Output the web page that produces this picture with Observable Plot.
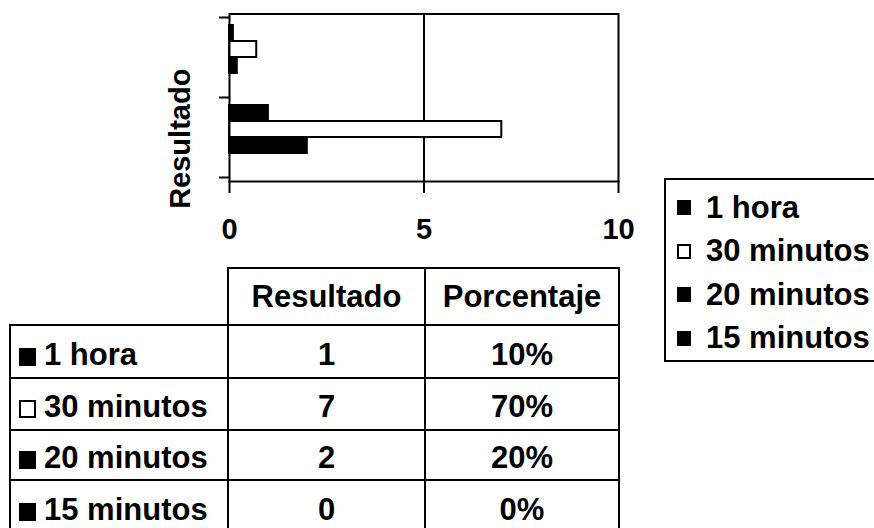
<!DOCTYPE html>
<html>
<head>
<meta charset="utf-8">
<script src="https://cdn.jsdelivr.net/npm/d3@7"></script>
<script src="https://cdn.jsdelivr.net/npm/@observablehq/plot@0.6"></script>
<style>
  html, body { margin: 0; padding: 0; background: #fff; width: 874px; height: 528px; overflow: hidden; }
  #root { position: relative; width: 874px; height: 528px; font-family: "Liberation Sans", Arial, sans-serif; font-weight: bold; color: #000; }
  #chart { position: absolute; left: 0; top: 0; }
  #legend { position: absolute; left: 664px; top: 178px; width: 240px; height: 184px; border: 2px solid #000; box-sizing: border-box; }
  .lrow { position: absolute; left: 11px; height: 43px; display: flex; align-items: center; font-size: 31px; white-space: nowrap; }
  .sw { display: inline-block; box-sizing: border-box; border: 2px solid #000; flex: none; }
  #tbl { position: absolute; left: 9px; top: 267px; border-collapse: collapse; table-layout: fixed; font-size: 31px; }
  #tbl td { border: 2px solid #000; padding: 0; white-space: nowrap; overflow: hidden; }
  #tbl td.num { text-align: center; padding-top: 6px; }
  #tbl td.lab { padding-left: 8px; padding-top: 6px; }
  #tbl td.hd { text-align: center; }
  #tbl td.blank { border-top: none; border-left: none; }
</style>
</head>
<body>
<div id="root">
  <div id="chart"></div>
  <div id="legend"></div>
  <table id="tbl"></table>
</div>
<script>
// ---- data ----
const categories = ["Porcentaje", "Resultado"];          // top group, bottom group
const series = ["1 hora", "30 minutos", "20 minutos", "15 minutos"];
const resultado = [1, 7, 2, 0];
const porcentaje = [0.1, 0.7, 0.2, 0];
const seriesFill = ["#000", "#fff", "#000", "#000"];
const xTicks = [0, 5, 10];
const yLabel = "Resultado";
const tableHeaders = ["Resultado", "Porcentaje"];

// ---- build tidy rows ----
const valuesByCategory = { Porcentaje: porcentaje, Resultado: resultado };
const bars = categories.flatMap(c =>
  series.map((s, i) => ({ category: c, serie: s, value: valuesByCategory[c][i], key: c + " · " + s }))
);
const groupKeys = c => bars.filter(b => b.category === c).map(b => b.key);
const yDomain = ["edge-top", ...groupKeys(categories[0]), "edge-mid", ...groupKeys(categories[1]), "edge-bottom"];

// ---- chart ----
const W = 660, H = 250;
const frameTop = 13.5, frameBottom = 181;
const half = (frameBottom - frameTop) / 20;

const chart = Plot.plot({
  width: W,
  height: H,
  marginLeft: 229,
  marginRight: 42,
  marginTop: frameTop - half,
  marginBottom: H - frameBottom - half,
  style: { fontFamily: '"Liberation Sans", Arial, sans-serif', fontWeight: "bold", background: "#fff", color: "#000", overflow: "visible" },
  x: { domain: [0, 10] },
  y: { type: "band", domain: yDomain, paddingInner: 0, paddingOuter: 0 },
  color: { domain: series, range: seriesFill },
  marks: [
    Plot.ruleX([5], { insetTop: half, insetBottom: half, stroke: "#000", strokeWidth: 2 }),
    Plot.barX(bars, { y: "key", x: "value", fill: "serie", stroke: "#000", strokeWidth: 2 }),
    Plot.frame({ insetTop: half, insetBottom: half, stroke: "#000", strokeWidth: 2 }),
    Plot.axisY({ ticks: ["edge-top", "edge-mid", "edge-bottom"], tickSize: 10, tickFormat: () => "", strokeWidth: 2, label: null }),
    Plot.axisX({ ticks: xTicks, tickSize: 12, tickPadding: 25, dy: -half, strokeWidth: 2, fontSize: 29, fontWeight: "bold", label: null, tickFormat: d => String(d) }),
    Plot.text([yLabel], { text: d => d, frameAnchor: "left", textAnchor: "middle", lineAnchor: "middle", rotate: -90, dx: -49, dy: 41, fontSize: 29, fontWeight: "bold", fill: "#000" })
  ]
});
document.getElementById("chart").appendChild(chart);

// ---- legend ----
const legend = document.getElementById("legend");
series.forEach((s, i) => {
  const row = document.createElement("div");
  row.className = "lrow";
  row.style.top = (6 + i * 43.5) + "px";
  const sw = document.createElement("span");
  sw.className = "sw";
  sw.style.width = "14px";
  sw.style.height = "15px";
  sw.style.background = seriesFill[i];
  sw.style.marginRight = "15px";
  row.appendChild(sw);
  row.appendChild(document.createTextNode(s));
  legend.appendChild(row);
});

// ---- data table ----
const colWidths = [218, 197, 194];
const rowHeights = [57, 53, 52, 50, 54];
const fmtPct = d3.format(".0%");
const tbl = document.getElementById("tbl");
tbl.style.width = d3.sum(colWidths) + "px";
const cg = document.createElement("colgroup");
colWidths.forEach(w => { const c = document.createElement("col"); c.style.width = w + "px"; cg.appendChild(c); });
tbl.appendChild(cg);
const hr = document.createElement("tr");
hr.style.height = rowHeights[0] + "px";
const blank = document.createElement("td"); blank.className = "blank"; hr.appendChild(blank);
tableHeaders.forEach(h => { const td = document.createElement("td"); td.className = "hd"; td.textContent = h; hr.appendChild(td); });
tbl.appendChild(hr);
series.forEach((s, i) => {
  const tr = document.createElement("tr");
  tr.style.height = rowHeights[i + 1] + "px";
  const lab = document.createElement("td");
  lab.className = "lab";
  const sw = document.createElement("span");
  sw.className = "sw";
  sw.style.width = "17px";
  sw.style.height = "18px";
  sw.style.background = seriesFill[i];
  sw.style.marginRight = "8px";
  sw.style.verticalAlign = "-1px";
  lab.appendChild(sw);
  lab.appendChild(document.createTextNode(s));
  tr.appendChild(lab);
  const v1 = document.createElement("td"); v1.className = "num"; v1.textContent = String(resultado[i]); tr.appendChild(v1);
  const v2 = document.createElement("td"); v2.className = "num"; v2.textContent = fmtPct(porcentaje[i]); tr.appendChild(v2);
  tbl.appendChild(tr);
});
</script>
</body>
</html>
